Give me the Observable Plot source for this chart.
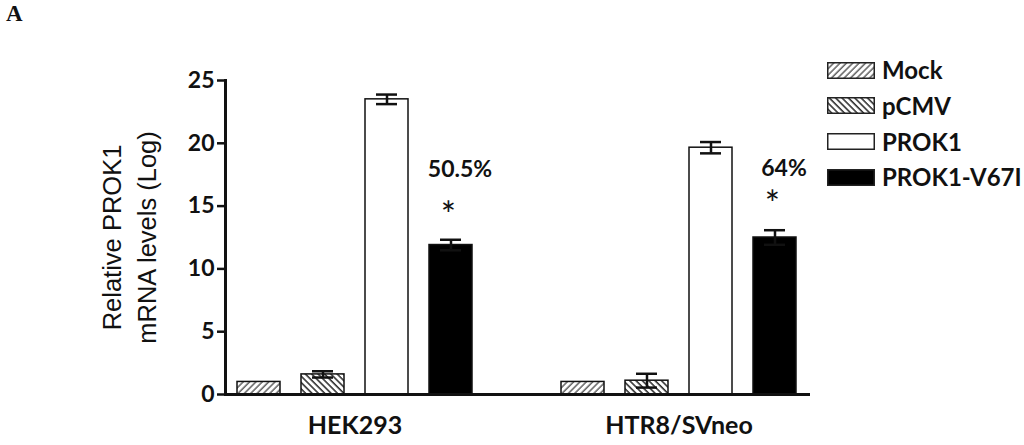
<!DOCTYPE html>
<html><head><meta charset="utf-8">
<script src="https://cdn.jsdelivr.net/npm/d3@7"></script>
<script src="https://cdn.jsdelivr.net/npm/@observablehq/plot@0.6"></script>
<style>
body{margin:0;background:#fff;}
#wrap{position:relative;width:1024px;height:445px;overflow:hidden;background:#fff;}
#chart{position:absolute;left:0;top:0;}
#panel{position:absolute;left:6px;top:1px;font-family:"Liberation Serif",serif;font-weight:bold;font-size:23px;color:#111;}
.lg{position:absolute;left:827px;height:30px;display:flex;align-items:center;font-family:Lato,sans-serif;font-weight:bold;font-size:24px;line-height:1;color:#111;}
.lg svg{margin-right:7px;display:block;}
</style></head><body>
<svg width="0" height="0" style="position:absolute">
 <defs>
  <pattern id="hMock" patternUnits="userSpaceOnUse" width="4.5" height="4.5" patternTransform="rotate(45)">
   <rect width="4.5" height="4.5" fill="#fff"/>
   <line x1="1" y1="0" x2="1" y2="4.5" stroke="#555" stroke-width="1.4"/>
  </pattern>
  <pattern id="hPcmv" patternUnits="userSpaceOnUse" width="4.5" height="4.5" patternTransform="rotate(-45)">
   <rect width="4.5" height="4.5" fill="#fff"/>
   <line x1="1" y1="0" x2="1" y2="4.5" stroke="#333" stroke-width="1.6"/>
  </pattern>
 </defs>
</svg>
<div id="wrap"><div id="panel">A</div><div id="chart"></div><div id="legend"></div></div>
<script>
const groups = ["HEK293", "HTR8/SVneo"];
const series = ["Mock", "pCMV", "PROK1", "PROK1-V67I"];
const hekMeans = [1.0, 1.6, 23.5, 11.9];
const hekErrors = [0, 0.25, 0.38, 0.42];
const htrMeans = [1.0, 1.1, 19.65, 12.5];
const htrErrors = [0, 0.55, 0.45, 0.58];
const annotationText = ["50.5%", "64%"];
const annotationY = [17.9, 18.0];
const starY = [14.2, 15.05];
const yTicks = [0, 5, 10, 15, 20, 25];
const yTitle = "Relative PROK1\nmRNA levels (Log)";
const fills = ["url(#hMock)", "url(#hPcmv)", "white", "black"];

const data = [];
groups.forEach((g, gi) => {
  const means = gi === 0 ? hekMeans : htrMeans;
  const errs = gi === 0 ? hekErrors : htrErrors;
  series.forEach((s, si) => data.push({group: g, series: s, mean: means[si], err: errs[si]}));
});
const notes = groups.map((g, i) => ({group: g, series: series[3], label: annotationText[i], ly: annotationY[i], sy: starY[i]}));
const hasErr = d => d.err > 0;

const chart = Plot.plot({
  width: 1024, height: 445,
  marginLeft: 225, marginRight: 215.5, marginTop: 80, marginBottom: 51,
  style: {fontFamily: "Lato", fontWeight: "bold", color: "#111", background: "transparent", overflow: "visible"},
  fx: {domain: groups, paddingInner: 0.2018, paddingOuter: 0, label: null},
  x: {domain: series, paddingInner: 0.323, paddingOuter: 0.154, axis: null},
  y: {domain: [0, 25], label: null},
  color: {domain: series, range: fills},
  marks: [
    Plot.barY(data, {fx: "group", x: "series", y: "mean", fill: "series", stroke: "#111", strokeWidth: 1.5}),
    Plot.ruleX(data, {fx: "group", x: "series", y1: d => d.mean - d.err, y2: d => d.mean + d.err, filter: hasErr, stroke: "#111", strokeWidth: 2.5}),
    Plot.tickY(data, {fx: "group", x: "series", y: d => d.mean + d.err, filter: hasErr, insetLeft: 11, insetRight: 11, stroke: "#111", strokeWidth: 2.5}),
    Plot.tickY(data, {fx: "group", x: "series", y: d => d.mean - d.err, filter: hasErr, insetLeft: 11, insetRight: 11, stroke: "#111", strokeWidth: 2.5}),
    Plot.text(notes, {fx: "group", x: "series", y: "ly", text: "label", fontSize: 23, dx: 9}),
    Plot.text(notes, {fx: "group", x: "series", y: "sy", text: () => "*", fontSize: 36, fontWeight: "normal", dx: -2.5}),
    Plot.axisY({ticks: yTicks, tickSize: 8, tickPadding: 3, strokeWidth: 2.5, fontSize: 23, label: null}),
    Plot.axisFx({anchor: "bottom", tickSize: 0, tickPadding: 22, fontSize: 25, label: null}),
    Plot.frame({anchor: "left", facet: "super", stroke: "#111", strokeWidth: 3}),
    Plot.frame({anchor: "bottom", facet: "super", stroke: "#111", strokeWidth: 3}),
    Plot.text([yTitle], {facet: "super", frameAnchor: "left", textAnchor: "middle", dx: -98, rotate: -90, fontSize: 25.5, fontWeight: "normal", fontFamily: "Liberation Sans", lineHeight: 1.37})
  ]
});
document.getElementById("chart").appendChild(chart);

const legendCenters = [70, 105.5, 141.5, 177];
const legend = document.getElementById("legend");
series.forEach((s, i) => {
  const row = document.createElement("div");
  row.className = "lg";
  row.style.top = (legendCenters[i] - 15) + "px";
  row.innerHTML = `<svg width="48" height="17"><rect x="0.75" y="0.75" width="46.5" height="15.5" fill="${fills[i]}" stroke="#222" stroke-width="1.5"/></svg><span>${s}</span>`;
  legend.appendChild(row);
});
</script>
</body></html>
